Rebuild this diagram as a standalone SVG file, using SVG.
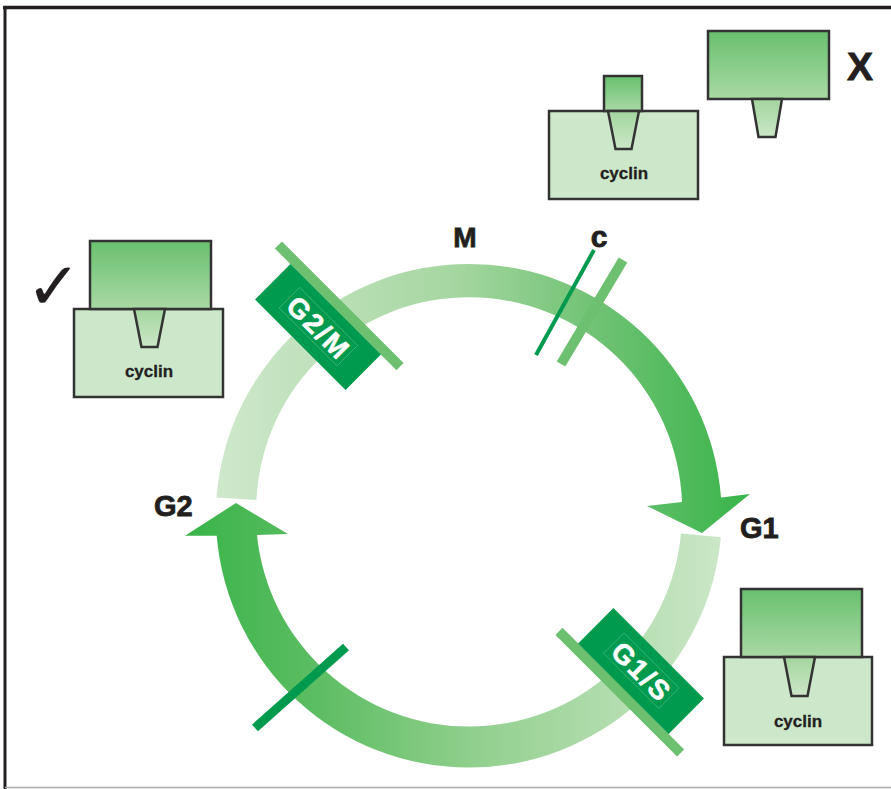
<svg xmlns="http://www.w3.org/2000/svg" width="891" height="789" viewBox="0 0 891 789">
<defs>
<linearGradient id="gTop" gradientUnits="userSpaceOnUse" x1="216" y1="0" x2="750" y2="0">
<stop offset="0" stop-color="#cfe8cc"/>
<stop offset="0.45" stop-color="#a5d6a0"/>
<stop offset="0.7" stop-color="#72c376"/>
<stop offset="1" stop-color="#38b449"/>
</linearGradient>
<linearGradient id="gBot" gradientUnits="userSpaceOnUse" x1="722" y1="0" x2="185" y2="0">
<stop offset="0" stop-color="#cbe7c7"/>
<stop offset="0.45" stop-color="#93d08f"/>
<stop offset="0.75" stop-color="#5dbd63"/>
<stop offset="1" stop-color="#39b449"/>
</linearGradient>
<linearGradient id="gCdk" x1="0" y1="0" x2="0" y2="1">
<stop offset="0" stop-color="#69c06f"/>
<stop offset="1" stop-color="#a9d9a4"/>
</linearGradient>
<linearGradient id="gTrap" x1="0" y1="0" x2="0" y2="1">
<stop offset="0" stop-color="#a3d59e"/>
<stop offset="1" stop-color="#cbe7c7"/>
</linearGradient>
<style>
.cyc{fill:#cde7ca;stroke:#333;stroke-width:2.5}
.cdk{fill:url(#gCdk);stroke:#333;stroke-width:2.5}
.trap{fill:url(#gTrap);stroke:#333;stroke-width:2.5;stroke-linejoin:miter}
.ctx{font-family:"Liberation Sans",Arial,sans-serif;font-weight:bold;font-size:17px;fill:#231f20;stroke:#231f20;stroke-width:0.3;text-anchor:middle}
.lbl{font-family:"Liberation Sans",Arial,sans-serif;font-weight:bold;fill:#231f20;stroke:#231f20;stroke-width:0.8}
.box{fill:#009a4e}
.bar{fill:#6cc070}
.btx{font-family:"Liberation Sans",Arial,sans-serif;font-weight:bold;font-size:28px;fill:#fff;stroke:#fff;stroke-width:0.5;text-anchor:middle;letter-spacing:2px}
.faint{fill:none;stroke:#ffffff;stroke-opacity:0.35;stroke-width:0.6}
</style>
</defs>

<g id="frame">
<line x1="3" y1="7.5" x2="891" y2="7.5" stroke="#231f20" stroke-width="3.5"/>
<line x1="5" y1="6" x2="5" y2="789" stroke="#231f20" stroke-width="3"/>
<line x1="5" y1="787.5" x2="891" y2="787.5" stroke="#aaaaaa" stroke-width="1.5"/>
</g>

<g id="connectors">
<path id="arrow-top" fill="url(#gTop)" d="M216.5,497.5 A253,253 0 0 1 721,497.5 L750,494 L702,533 L647,506 L682,502 A213,213 0 0 0 256.4,500 Z"/>
<path id="arrow-bottom" fill="url(#gBot)" d="M720.8,537.3 A253,253 0 0 1 216.7,535.7 L185,535.7 L236,503 L288,534 L257,535 A213,213 0 0 0 681,533.4 Z"/>
<line id="c-bar" x1="623" y1="260" x2="561" y2="364" stroke="#6cc070" stroke-width="10"/>
<line id="c-line" x1="594" y1="250" x2="536" y2="355" stroke="#009a4e" stroke-width="4"/>
<line id="g2-marker" x1="346" y1="647" x2="255" y2="728" stroke="#009a4e" stroke-width="9"/>
</g>

<g id="node-g2m" transform="translate(318,327) rotate(45)">
<rect class="bar" x="-86" y="-35" width="172" height="10"/>
<rect class="box" x="-64" y="-25" width="128" height="50"/>
<rect class="faint" x="-41" y="-15" width="82" height="29"/>
<text class="btx" x="1" y="10">G2/M</text>
</g>

<g id="node-g1s" transform="translate(641,671) rotate(45)">
<rect class="bar" x="-86" y="25" width="172" height="10"/>
<rect class="box" x="-64" y="-25" width="128" height="50"/>
<rect class="faint" x="-39" y="-15" width="78" height="29"/>
<text class="btx" x="1" y="10">G1/S</text>
</g>

<g id="node-cyclin-left">
<rect class="cyc" x="74" y="309" width="149" height="88"/>
<rect class="cdk" x="90" y="241" width="121" height="68"/>
<polygon class="trap" points="134,309 165,309 157.5,347 141.5,347"/>
<text class="ctx" x="149" y="377">cyclin</text>
</g>

<g id="node-cyclin-topright">
<rect class="cyc" x="549" y="111" width="149" height="88"/>
<rect class="cdk" x="604" y="76" width="38" height="35"/>
<polygon class="trap" points="608,111 639,111 631.5,149 615.5,149"/>
<text class="ctx" x="624" y="179">cyclin</text>
</g>

<g id="node-cdk-topright">
<rect class="cdk" x="708" y="31" width="121" height="68"/>
<polygon class="trap" points="752,99 782,99 775.5,137 758.5,137"/>
</g>

<g id="node-cyclin-bottomright">
<rect class="cyc" x="724" y="657" width="148" height="88"/>
<rect class="cdk" x="741" y="589" width="121" height="68"/>
<polygon class="trap" points="784,657 815,657 807.5,696 791.5,696"/>
<text class="ctx" x="798" y="727">cyclin</text>
</g>

<g id="labels">
<text class="lbl" x="465" y="246.5" font-size="28" text-anchor="middle">M</text>
<text class="lbl" x="599" y="246.5" font-size="30" text-anchor="middle">c</text>
<text class="lbl" x="154" y="516" font-size="29">G2</text>
<text class="lbl" x="740" y="538" font-size="29">G1</text>
<text class="lbl" x="860" y="80" font-size="39" text-anchor="middle">X</text>
<text x="26" y="309" font-family="DejaVu Sans,sans-serif" font-size="66" fill="#231f20">✓</text>
</g>
</svg>
